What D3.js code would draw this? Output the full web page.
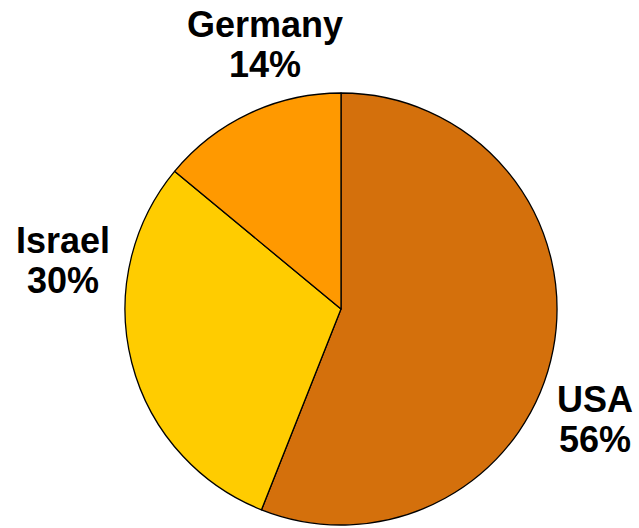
<!DOCTYPE html>
<html>
<head>
<meta charset="utf-8">
<script src="https://cdn.jsdelivr.net/npm/d3@7"></script>
<style>
  html, body { margin: 0; padding: 0; background: #fff; }
  svg { display: block; }
</style>
</head>
<body>
<svg id="chart" width="639" height="528"></svg>
<script>
// Share by country
const countries = ["USA", "Israel", "Germany"];
const shares = [56, 30, 14];
const colors = ["#D4700C", "#FFCC00", "#FF9900"];
// Label anchors (centre x, first-line baseline y)
const labelPos = [[595, 412], [63, 253], [265, 37]];

const svg = d3.select("#chart");
const cx = 341, cy = 309, r = 216;

const pie = d3.pie().sort(null).value(d => d)(shares);
const arc = d3.arc().innerRadius(0).outerRadius(r);

const g = svg.append("g").attr("transform", `translate(${cx},${cy})`);
g.selectAll("path")
  .data(pie)
  .join("path")
  .attr("d", arc)
  .attr("fill", (d, i) => colors[i])
  .attr("stroke", "#000")
  .attr("stroke-width", 1.3)
  .attr("stroke-linejoin", "round");

const labels = svg.selectAll("text.lbl")
  .data(countries)
  .join("text")
  .attr("class", "lbl")
  .attr("text-anchor", "middle")
  .attr("font-family", "'Liberation Sans', Arial, sans-serif")
  .attr("font-weight", "bold")
  .attr("font-size", 36)
  .attr("fill", "#000");

labels.append("tspan")
  .attr("x", (d, i) => labelPos[i][0])
  .attr("y", (d, i) => labelPos[i][1])
  .text(d => d);
labels.append("tspan")
  .attr("x", (d, i) => labelPos[i][0])
  .attr("y", (d, i) => labelPos[i][1] + 40)
  .text((d, i) => shares[i] + "%");
</script>
</body>
</html>
